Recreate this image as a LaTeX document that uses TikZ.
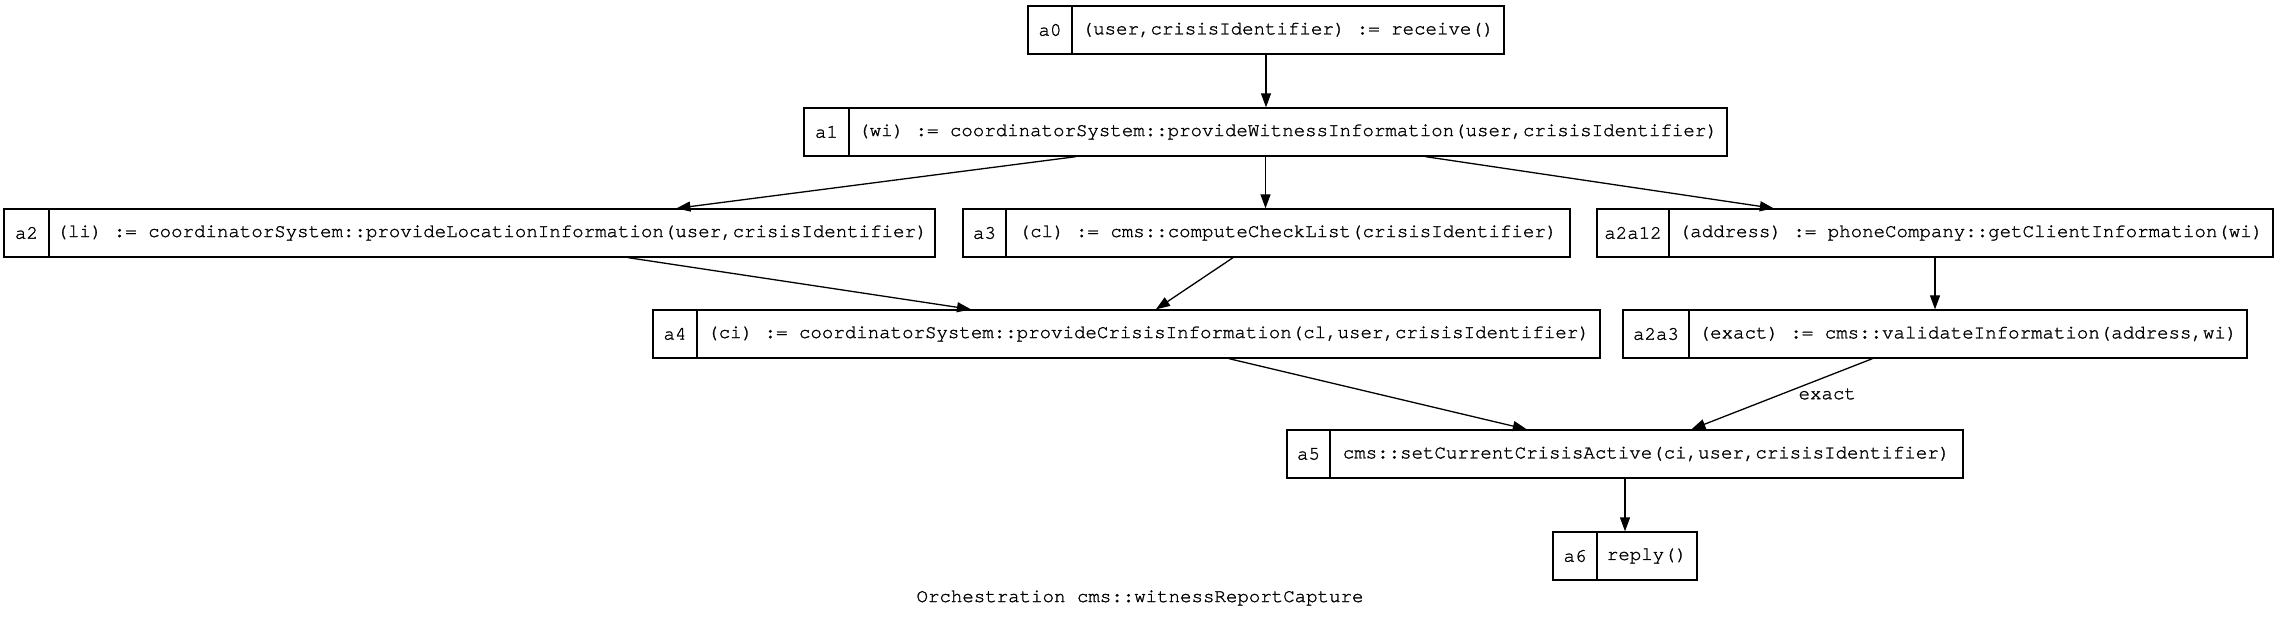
\documentclass[tikz,border=0pt]{standalone}
\usepackage{fontspec}
\setmonofont[Ligatures={NoCommon,NoRequired,NoContextual},FakeBold=1.3]{TeX Gyre Cursor}
\usetikzlibrary{arrows.meta,calc}
\tikzset{
  cell/.style={draw, line width=1.3pt, minimum height=48pt, inner sep=0pt,
    font=\ttfamily\fontsize{19.1}{22}\selectfont},
  flow/.style={line width=1.3pt, -{Triangle[length=14pt,width=10pt]}},
  lbl/.style={font=\ttfamily\fontsize{19.1}{22}\selectfont, inner sep=0pt}
}
% name, L, D, R, cy, id, text
\newcommand\actbox[7]{%
  \node[cell, minimum width={(#3-#2)*1pt}] (#1i) at ({(#2+#3)/2},#5) {#6};
  \node[cell, minimum width={(#4-#3)*1pt}] (#1) at ({(#3+#4)/2},#5) {#7};
}
\begin{document}
\begin{tikzpicture}[x=1pt,y=-1pt]
\useasboundingbox (0,0) rectangle (2280,617);
\actbox{a0}{1028}{1072}{1504}{30}{a0}{(user,crisisIdentifier) := receive()}
\actbox{a1}{804}{849}{1727}{132}{a1}{(wi) := coordinatorSystem::provideWitnessInformation(user,crisisIdentifier)}
\actbox{a2}{4}{49}{935}{233}{a2}{(li) := coordinatorSystem::provideLocationInformation(user,crisisIdentifier)}
\actbox{a3}{963}{1006}{1570}{233}{a3}{(cl) := cms::computeCheckList(crisisIdentifier)}
\actbox{a2a12}{1597}{1669}{2273}{233}{a2a12}{(address) := phoneCompany::getClientInformation(wi)}
\actbox{a4}{653}{697}{1600}{334}{a4}{(ci) := coordinatorSystem::provideCrisisInformation(cl,user,crisisIdentifier)}
\actbox{a2a3}{1623}{1689}{2247}{334}{a2a3}{(exact) := cms::validateInformation(address,wi)}
\actbox{a5}{1287}{1330}{1963}{454}{a5}{cms::setCurrentCrisisActive(ci,user,crisisIdentifier)}
\actbox{a6}{1553}{1597}{1697}{556}{a6}{reply()}

\coordinate (e01) at ($(a0i.south west)!0.5!(a0.south east)$);
\draw[flow] (e01) -- (e01 |- a1.north);
\draw[flow] ($(a1i.south west)!0.295!(a1.south east)$) -- ($(a2i.north west)!0.722!(a2.north east)$);
\coordinate (e13) at ($(a1i.south west)!0.5!(a1.south east)$);
\draw[flow] (e13) -- (e13 |- a3.north);
\draw[flow] ($(a1i.south west)!0.673!(a1.south east)$) -- ($(a2a12i.north west)!0.262!(a2a12.north east)$);
\draw[flow] ($(a2i.south west)!0.670!(a2.south east)$) -- ($(a4i.north west)!0.336!(a4.north east)$);
\draw[flow] ($(a3i.south west)!0.445!(a3.south east)$) -- ($(a4i.north west)!0.531!(a4.north east)$);
\coordinate (e1223) at ($(a2a12i.south west)!0.5!(a2a12.south east)$);
\draw[flow] (e1223) -- (e1223 |- a2a3.north);
\draw[flow] ($(a4i.south west)!0.608!(a4.south east)$) -- ($(a5i.north west)!0.355!(a5.north east)$);
\draw[flow] ($(a2a3i.south west)!0.400!(a2a3.south east)$) -- node[lbl, pos=0.5, anchor=west, xshift=16pt] (lex) {exact} ($(a5i.north west)!0.598!(a5.north east)$);
\coordinate (e56) at ($(a5i.south west)!0.5!(a5.south east)$);
\draw[flow] (e56) -- (e56 |- a6.north);

\node[lbl] (cap) at (1140,598) {Orchestration cms::witnessReportCapture};
\end{tikzpicture}
\end{document}
